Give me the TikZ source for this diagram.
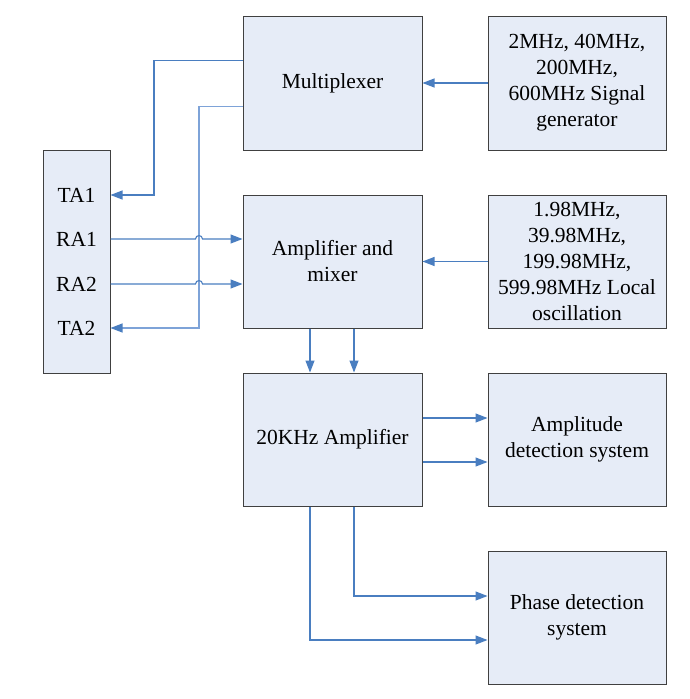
\documentclass[tikz,border=0pt]{standalone}
\usepackage{fontspec}
\setmainfont{Liberation Serif}
\usetikzlibrary{calc,arrows.meta}
\definecolor{boxfill}{HTML}{E6ECF7}
\definecolor{boxline}{HTML}{404040}
\definecolor{arrblue}{HTML}{4A7EC0}
\definecolor{lightblue}{HTML}{7EA3D8}
\tikzset{
  blk/.style={draw=boxline, line width=1pt, fill=boxfill, minimum width=179pt, minimum height=134pt, inner sep=0pt, align=center, font=\fontsize{21.5}{26}\selectfont},
  lbl/.style={inner sep=0pt, font=\fontsize{21.5}{26}\selectfont},
  arr/.style={draw=arrblue, line width=1.1pt, -{Triangle[length=12pt,width=9pt]}},
  arrl/.style={draw=lightblue, line width=1.1pt, -{Triangle[length=12pt,width=9pt,color=arrblue]}}
}
\begin{document}
\begin{tikzpicture}[x=1pt,y=-1pt]
\useasboundingbox (0,0) rectangle (689,699);
\node[blk, minimum width=67pt, minimum height=223pt] (L) at (76.5,261.5) {};
\node[lbl] (ta1) at (76.5,195) {TA1};
\node[lbl] (ra1) at (76.5,239) {RA1};
\node[lbl] (ra2) at (76.5,284) {RA2};
\node[lbl] (ta2) at (76.5,328) {TA2};
\node[blk] (mux) at (332.5,83) {Multiplexer};
\node[blk, minimum width=178pt] (sg) at (577,83) {2MHz, 40MHz,\\200MHz,\\600MHz Signal\\generator};
\node[blk, minimum height=133pt] (am) at (332.5,261.5) {Amplifier and\\mixer};
\node[blk, minimum width=178pt, minimum height=133pt] (lo) at (577,261.5) {1.98MHz,\\39.98MHz,\\199.98MHz,\\599.98MHz Local\\oscillation};
\node[blk, minimum height=133pt] (k20) at (332.5,439.5) {20KHz Amplifier};
\node[blk, minimum width=178pt, minimum height=133pt] (amp) at (577,439.5) {Amplitude\\detection system};
\node[blk, minimum width=178pt, minimum height=133pt] (ph) at (577,617.5) {Phase detection\\system};
% coordinates for routing
\coordinate (m1) at ($(mux.north west)!0.336!(mux.south west)$);
\coordinate (m2) at ($(mux.north west)!0.672!(mux.south west)$);
\coordinate (v1) at (154,0);
\coordinate (v2) at (199,0);
% mux -> TA1, TA2
\draw[arr] (m1) -- (v1 |- m1) -- (v1 |- ta1) -- (L.east |- ta1);
\draw[arrl] (m2) -- (v2 |- m2) -- (v2 |- ta2) -- (L.east |- ta2);
% RA1, RA2 -> amplifier and mixer, hopping over the vertical line
\draw[arr] (L.east |- ra1) -- ($(v2 |- ra1)+(-3.5,0)$) .. controls ($(v2 |- ra1)+(-3.5,-4.5)$) and ($(v2 |- ra1)+(3.5,-4.5)$) .. ($(v2 |- ra1)+(3.5,0)$) -- (am.west |- ra1);
\draw[arr] (L.east |- ra2) -- ($(v2 |- ra2)+(-3.5,0)$) .. controls ($(v2 |- ra2)+(-3.5,-4.5)$) and ($(v2 |- ra2)+(3.5,-4.5)$) .. ($(v2 |- ra2)+(3.5,0)$) -- (am.west |- ra2);
% sources
\draw[arr] (sg.west) -- (mux.east);
\draw[arr] (lo.west) -- (am.east);
% amp-mixer -> 20KHz
\coordinate (c1) at (310,0);
\coordinate (c2) at (354,0);
\draw[arr] (c1 |- am.south) -- (c1 |- k20.north);
\draw[arr] (c2 |- am.south) -- (c2 |- k20.north);
% 20KHz -> amplitude
\coordinate (r1) at (0,418);
\coordinate (r2) at (0,462);
\draw[arr] (k20.east |- r1) -- (amp.west |- r1);
\draw[arr] (k20.east |- r2) -- (amp.west |- r2);
% 20KHz -> phase
\coordinate (p1) at (0,596);
\coordinate (p2) at (0,640);
\draw[arr] (c2 |- k20.south) -- (c2 |- p1) -- (ph.west |- p1);
\draw[arr] (c1 |- k20.south) -- (c1 |- p2) -- (ph.west |- p2);
\end{tikzpicture}
\end{document}
